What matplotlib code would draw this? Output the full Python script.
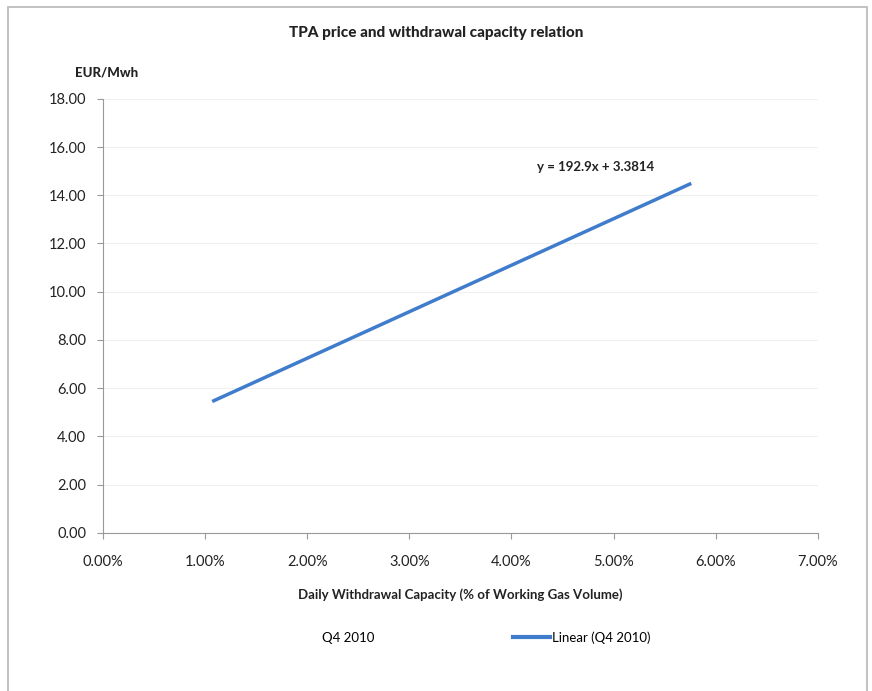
import matplotlib
matplotlib.use('Agg')
import matplotlib.pyplot as plt
from matplotlib.lines import Line2D
from matplotlib.patches import Rectangle
import numpy as np

plt.rcParams['font.family'] = ['Lato', 'DejaVu Sans']

# trendline (Excel linear fit of Q4 2010) and its x range
slope = 192.9
intercept = 3.3814
x_range = [0.0107, 0.0576]
y_ticks = [0, 2, 4, 6, 8, 10, 12, 14, 16, 18]
x_ticks = [0, 0.01, 0.02, 0.03, 0.04, 0.05, 0.06, 0.07]

fig = plt.figure(figsize=(8.72, 6.91), dpi=100)
ax = fig.add_axes([0.118, 0.229, 0.82, 0.628])

# outer chart frame
fig.patches.append(Rectangle((0.009, -0.05), 0.985, 1.04, transform=fig.transFigure,
                             fill=False, edgecolor='#b8b8b8', linewidth=1.2))

xs = np.array(x_range)
ax.plot(xs, slope * xs + intercept, color='#3f7ccc', linewidth=2.5, solid_capstyle='butt')

ax.set_xlim(0, 0.07)
ax.set_ylim(0, 18)
ax.set_xticks(x_ticks)
ax.set_yticks(y_ticks)
ax.set_xticklabels(['%.2f%%' % (v * 100) for v in x_ticks])
ax.set_yticklabels(['%.2f' % v for v in y_ticks])
ax.tick_params(labelsize=10.5, colors='#222222', length=4, color='#999999')
ax.tick_params(axis='x', pad=12)
ax.tick_params(axis='y', pad=8)
ax.grid(axis='y', color='#f0f0f0', linewidth=0.8)
for s in ['top', 'right']:
    ax.spines[s].set_visible(False)
for s in ['left', 'bottom']:
    ax.spines[s].set_color('#999999')

ax.text(0.0425, 15.0, 'y = 192.9x + 3.3814', fontsize=9.5, color='#222222', fontweight='bold')

fig.text(0.5, 0.952, 'TPA price and withdrawal capacity relation', ha='center', va='center',
         fontsize=11, fontweight='black', color='#222222')
fig.text(0.086, 0.895, 'EUR/Mwh', ha='left', va='center', fontsize=9.5, fontweight='black', color='#222222')
ax.set_xlabel('Daily Withdrawal Capacity (% of Working Gas Volume)', fontsize=9.5,
              fontweight='bold', color='#222222', labelpad=14)

handles = [Line2D([], [], color='none'),
           Line2D([], [], color='#3f7ccc', linewidth=3)]
fig.legend(handles, ['Q4 2010', 'Linear (Q4 2010)'], loc='center', bbox_to_anchor=(0.535, 0.077),
           ncol=2, frameon=False, fontsize=9.5, columnspacing=10.5, handlelength=2.8, handletextpad=0.2)

plt.savefig('out.png', dpi=100)
